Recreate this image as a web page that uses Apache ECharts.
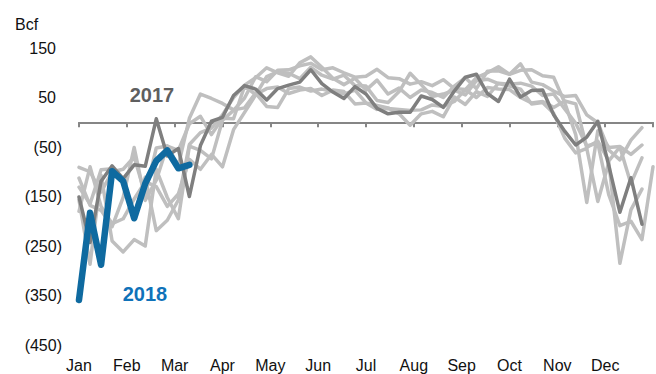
<!DOCTYPE html>
<html>
<head>
<meta charset="utf-8">
<script src="https://cdn.jsdelivr.net/npm/echarts@6/dist/echarts.min.js"></script>
<style>
  html, body { margin: 0; padding: 0; background: #fff; }
  #chart { width: 656px; height: 374px; }
</style>
</head>
<body>
<div id="chart"></div>
<script>
// Weekly net change in working gas storage, Bcf (week 0 = first report week of January)
const months = ['Jan', 'Feb', 'Mar', 'Apr', 'May', 'Jun', 'Jul', 'Aug', 'Sep', 'Oct', 'Nov', 'Dec'];

const weeks2012 = [-91, -100, -141, -100, -95, -70, -146, -52, -48, -87, 8, 57,
  48, 38, 25, 29, 59, 32, 30, 68, 71, 63, 67, 62,
  57, 65, 39, 26, 28, 26, 24, 25, 35, 32, 42, 66,
  50, 70, 67, 66, 50, 39, 42, 30, 43, 37, -51, -38,
  -78, -50, -124, -72];

const weeks2013 = [-180, -90, -170, -205, -195, -155, -120, -130, -170, -145, -75, -95,
  -65, -90, -15, 20, 55, 92, 102, 99, 88, 111, 95, 87,
  95, 74, 73, 44, 40, 62, 99, 76, 52, 57, 65, 55,
  84, 87, 78, 73, 67, 37, 40, 18, -32, -62, -53, -160,
  -81, -285, -177, -135];

const weeks2014 = [-157, -287, -107, -240, -262, -237, -250, -95, -152, -195, -48, -57,
  -74, 4, 24, 49, 92, 82, 105, 106, 114, 119, 106, 110,
  100, 91, 93, 107, 90, 88, 77, 82, 74, 86, 68, 66,
  90, 100, 112, 97, 105, 106, 94, 91, 40, -25, -162, -17,
  -51, -49, -65, -46];

const weeks2015 = [-131, -165, -96, -94, -115, -188, -111, -219, -198, -157, -45, -21,
  -12, 15, 50, 75, 90, 110, 100, 93, 120, 132, 111, 89,
  76, 89, 65, 85, 57, 69, 50, 65, 60, 50, 73, 90,
  68, 103, 104, 97, 118, 81, 76, 63, 52, 54, 15, -1,
  -56, -76, -36, -11];

const weeks2016 = [-113, -168, -178, -211, -152, -51, -158, -117, -48, -57, -3, 12,
  -25, 8, 7, 73, 56, 68, 71, 58, 65, 68, 54, 65,
  62, 37, 39, 34, 29, 17, -6, 17, 22, 11, 51, 36,
  62, 52, 79, 77, 79, 73, 54, 57, 27, -2, -48, -42,
  -147, -209, -200, -237, -90];

const weeks2017 = [-151, -243, -119, -88, -114, -86, -89, 7, -68, -53, -150, -47,
  2, 10, 54, 74, 67, 45, 68, 75, 81, 106, 78, 61,
  48, 72, 57, 28, 17, 20, 20, 53, 46, 30, 63, 91,
  97, 58, 42, 87, 51, 64, 65, 15, -18, -46, -30, 2,
  -88, -182, -112, -206];

const weeks2018 = [-359, -183, -288, -99, -119, -194, -124, -78, -57, -93, -86];

const historyYears = [weeks2012, weeks2013, weeks2014, weeks2015, weeks2016];

const FONT = '"Liberation Sans", Arial, Helvetica, sans-serif';

// place each weekly report on a month scale (12 months over 52 weeks)
const toPoints = arr => arr.map((v, i) => [i * 12 / 52, v]);

const chart = echarts.init(document.getElementById('chart'), null, { renderer: 'svg' });

const historySeries = historyYears.map(arr => ({
  type: 'line',
  data: toPoints(arr),
  showSymbol: false,
  symbol: 'none',
  silent: true,
  z: 2,
  lineStyle: { color: '#bfbfbf', width: 3.5, join: 'round', cap: 'round' }
}));

chart.setOption({
  animation: false,
  grid: { left: 79, right: -4, top: 48, bottom: 29 },
  xAxis: [
    {
      // zero line with month-boundary ticks
      type: 'value', min: 0, max: 12, interval: 1,
      axisLine: { show: true, onZero: true, lineStyle: { color: '#868686', width: 2 } },
      axisTick: { show: true, length: 5, lineStyle: { color: '#868686', width: 2 } },
      axisLabel: { show: false },
      splitLine: { show: false }
    },
    {
      // month names along the bottom
      type: 'value', min: 0, max: 12, interval: 1, position: 'bottom',
      axisLine: { show: false, onZero: false },
      axisTick: { show: false },
      splitLine: { show: false },
      axisLabel: {
        margin: 12, fontSize: 16, color: '#111', fontFamily: FONT,
        formatter: v => (Number.isInteger(v) && v < 12) ? months[v] : ''
      }
    }
  ],
  yAxis: {
    type: 'value', min: -450, max: 150, interval: 100,
    axisLine: { show: false },
    axisTick: { show: false },
    splitLine: { show: false },
    axisLabel: {
      margin: 17, fontSize: 16, color: '#111', fontFamily: FONT,
      formatter: v => v < 0 ? '(' + (-v) + ')' : '{p|' + v + '}',
      rich: { p: { fontSize: 16, color: '#111', fontFamily: FONT, padding: [0, 6, 0, 0] } }
    }
  },
  series: historySeries.concat([
    {
      name: '2017', type: 'line', data: toPoints(weeks2017),
      showSymbol: false, symbol: 'none', silent: true, z: 3,
      lineStyle: { color: '#7f7f7f', width: 3.5, join: 'round', cap: 'round' }
    },
    {
      name: '2018', type: 'line', data: toPoints(weeks2018),
      showSymbol: false, symbol: 'none', silent: true, z: 4,
      lineStyle: { color: '#0f6aa0', width: 6.5, join: 'round', cap: 'round' }
    }
  ]),
  graphic: [
    { type: 'text', x: 15, y: 24, style: { text: 'Bcf', fontSize: 16, fontFamily: FONT, fill: '#111', align: 'left', verticalAlign: 'middle' } },
    { type: 'text', x: 152, y: 95, style: { text: '2017', fontSize: 20, fontWeight: 'bold', fontFamily: FONT, fill: '#5f5f5f', align: 'center', verticalAlign: 'middle' } },
    { type: 'text', x: 145, y: 294, style: { text: '2018', fontSize: 20, fontWeight: 'bold', fontFamily: FONT, fill: '#0f72b9', align: 'center', verticalAlign: 'middle' } }
  ]
});
</script>
</body>
</html>
